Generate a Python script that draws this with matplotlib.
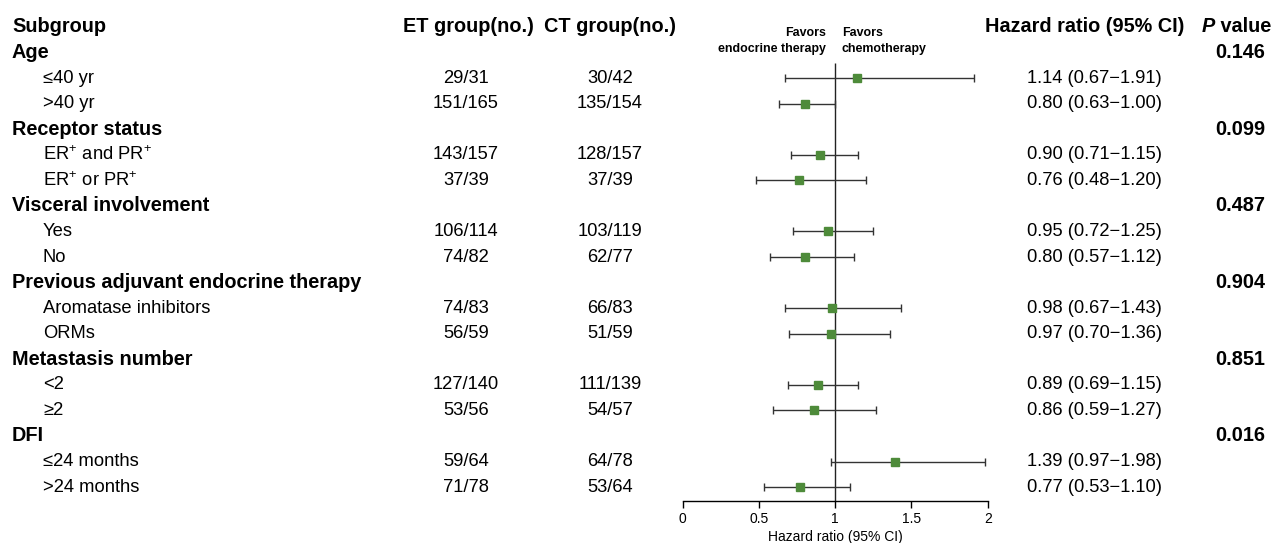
import numpy as np
import matplotlib
matplotlib.use('Agg')
import matplotlib.pyplot as plt
import matplotlib.transforms as mtransforms

plt.rcParams['font.family'] = ['Liberation Sans', 'DejaVu Sans']
plt.rcParams['mathtext.fontset'] = 'custom'
plt.rcParams['mathtext.rm'] = 'Liberation Sans'
plt.rcParams['mathtext.it'] = 'Liberation Sans:italic'
plt.rcParams['mathtext.bf'] = 'Liberation Sans:bold'

# Данные
groups = ['Age', 'Receptor status', 'Visceral involvement',
          'Previous adjuvant endocrine therapy', 'Metastasis number', 'DFI']
group_p = ['0.146', '0.099', '0.487', '0.904', '0.851', '0.016']
subgroups = [['≤40 yr', '>40 yr'],
             ['ER$^{+}$ and PR$^{+}$', 'ER$^{+}$ or PR$^{+}$'],
             ['Yes', 'No'],
             ['Aromatase inhibitors', 'ORMs'],
             ['<2', '≥2'],
             ['≤24 months', '>24 months']]
et_counts = [['29/31', '151/165'], ['143/157', '37/39'], ['106/114', '74/82'],
             ['74/83', '56/59'], ['127/140', '53/56'], ['59/64', '71/78']]
ct_counts = [['30/42', '135/154'], ['128/157', '37/39'], ['103/119', '62/77'],
             ['66/83', '51/59'], ['111/139', '54/57'], ['64/78', '53/64']]
hr = [[1.14, 0.80], [0.90, 0.76], [0.95, 0.80], [0.98, 0.97], [0.89, 0.86], [1.39, 0.77]]
lo = [[0.67, 0.63], [0.71, 0.48], [0.72, 0.57], [0.67, 0.70], [0.69, 0.59], [0.97, 0.53]]
hi = [[1.91, 1.00], [1.15, 1.20], [1.25, 1.12], [1.43, 1.36], [1.15, 1.27], [1.98, 1.10]]

W, H = 1275, 543
fig = plt.figure(figsize=(W / 100, H / 100), dpi=100)

# Текстовая ось в пикселях
tx = fig.add_axes([0, 0, 1, 1])
tx.set_xlim(0, W)
tx.set_ylim(H, 0)
tx.axis('off')

# Ось лесного графика
x0, x2, ybot = 682.7, 987.7, 500.7
ax = fig.add_axes([x0 / W, (H - ybot) / H, (x2 - x0) / W, ybot / H])
ax.set_xlim(0, 2)
ax.set_ylim(ybot, 0)
ax.patch.set_alpha(0)
for s in ['top', 'right', 'left']:
    ax.spines[s].set_visible(False)
ax.spines['bottom'].set_linewidth(1.0)
ax.set_yticks([])
ax.set_xticks([0, 0.5, 1, 1.5, 2])
ax.set_xticklabels(['0', '0.5', '1', '1.5', '2'])
ax.tick_params(axis='x', direction='out', length=5, width=1, labelsize=10, pad=3)
ax.set_xlabel('Hazard ratio (95% CI)', fontsize=10, labelpad=3)

fs = 13.2    # обычный текст
fb = 14.3    # жирный текст
row0, dy = 27, 25.56

def ry(i):
    return row0 + dy * i

# Заголовки
tx.text(12, ry(0), 'Subgroup', fontsize=fb, fontweight='bold', va='center')
tx.text(468, ry(0), 'ET group(no.)', fontsize=fb, fontweight='bold', va='center', ha='center')
tx.text(610, ry(0), 'CT group(no.)', fontsize=fb, fontweight='bold', va='center', ha='center')
tx.text(985, ry(0), 'Hazard ratio (95% CI)', fontsize=fb, fontweight='bold', va='center')
tv = tx.text(1271, ry(0), ' value', fontsize=fb, fontweight='bold', va='center', ha='right')
r = fig.canvas.get_renderer()
bb = tv.get_window_extent(r)
tr = mtransforms.blended_transform_factory(mtransforms.IdentityTransform(), tx.transData)
tx.text(bb.x0, ry(0), 'P', fontsize=fb, fontweight='bold', style='italic',
        va='center', ha='right', transform=tr)
tx.text(826, 33, 'Favors', fontsize=8.9, fontweight='bold', va='center', ha='right')
tx.text(826, 49, 'endocrine therapy', fontsize=8.9, fontweight='bold', va='center', ha='right')
tx.text(842, 33, 'Favors', fontsize=8.9, fontweight='bold', va='center', ha='left')
tx.text(842, 49, 'chemotherapy', fontsize=8.9, fontweight='bold', va='center', ha='left')

ax.vlines(1, 63, ybot, color='#222222', linewidth=1.0)

i = 1
for g, name in enumerate(groups):
    tx.text(12, ry(i), name, fontsize=fb, fontweight='bold', va='center')
    tx.text(1265, ry(i), group_p[g], fontsize=fb, fontweight='bold', va='center', ha='right')
    i += 1
    for k in range(2):
        y = ry(i)
        tx.text(43, y, subgroups[g][k], fontsize=fs, va='center')
        tx.text(466, y, et_counts[g][k], fontsize=fs, va='center', ha='center')
        tx.text(610, y, ct_counts[g][k], fontsize=fs, va='center', ha='center')
        tx.text(1027, y, '%.2f (%.2f\u2212%.2f)' % (hr[g][k], lo[g][k], hi[g][k]),
                fontsize=fs, va='center')
        ax.errorbar(hr[g][k], y, xerr=[[hr[g][k] - lo[g][k]], [hi[g][k] - hr[g][k]]],
                    fmt='none', ecolor='#333333', elinewidth=1.0, capsize=3, capthick=1.0)
        ax.plot(hr[g][k], y, 's', color='#4e8b3a', markersize=5.5, zorder=5)
        i += 1

fig.savefig('out.png', dpi=100)
plt.close()
